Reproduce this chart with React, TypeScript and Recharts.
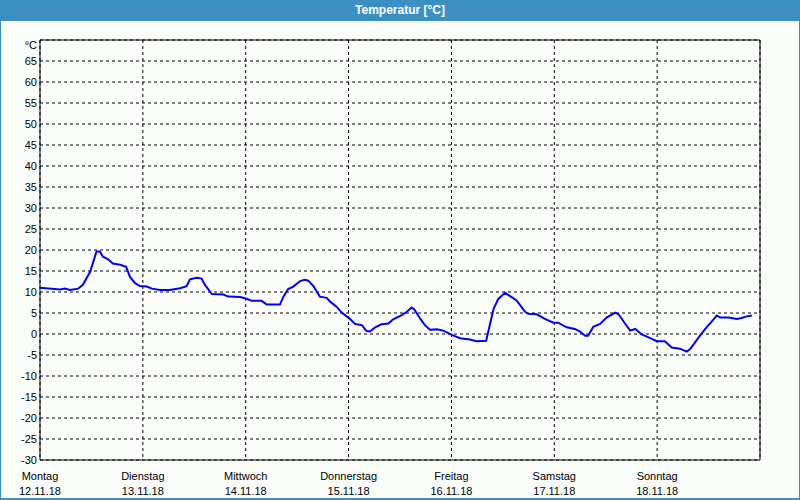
import React from "react";
import {
  CartesianGrid,
  Line,
  LineChart,
  ReferenceArea,
  XAxis,
  YAxis,
} from "recharts";

// hours since Monday 12.11.18 00:00
const HOURS = [
  0, 4.7, 5.8, 7.0, 8.9, 10.0, 11.7, 13.2, 14.0, 14.7,
  15.9, 17.0, 18.7, 20.1, 21.0, 22.2, 23.3, 24.9, 26.1, 28.0,
  30.3, 32.7, 34.2, 35.0, 36.6, 37.7, 38.5, 40.1, 42.8, 43.9,
  46.7, 48.2, 49.4, 51.7, 52.9, 56.0, 56.8, 57.9, 59.1, 60.7,
  61.8, 62.6, 63.8, 65.3, 66.9, 67.7, 69.2, 70.4, 72.3, 73.5,
  75.1, 76.2, 77.0, 78.2, 79.7, 81.3, 82.4, 84.4, 85.6, 86.7,
  87.3, 88.7, 89.8, 91.0, 92.6, 94.1, 96.1, 98.0, 100.3, 101.9,
  104.1, 105.0, 105.8, 106.9, 108.5, 109.7, 111.2, 113.2, 113.9, 115.9,
  117.8, 119.8, 120.9, 122.9, 124.8, 126.0, 127.2, 127.9, 129.1, 130.7,
  132.2, 134.2, 135.0, 136.5, 137.7, 138.9, 140.4, 142.4, 143.9, 145.8,
  147.4, 149.3, 150.9, 151.7, 154.0, 155.6, 156.7, 157.9, 158.7, 160.6,
  162.6, 163.7, 164.9, 166.1,
];

const TEMPS = [
  11.0, 10.6, 10.8, 10.5, 10.8, 11.7, 14.8, 19.7, 19.6, 18.4,
  17.8, 16.8, 16.5, 16.0, 13.6, 12.1, 11.4, 11.3, 10.8, 10.5,
  10.5, 10.9, 11.4, 13.0, 13.4, 13.2, 11.7, 9.5, 9.4, 8.9,
  8.8, 8.4, 7.9, 7.9, 7.0, 7.0, 8.9, 10.7, 11.3, 12.6,
  12.9, 12.7, 11.4, 8.9, 8.6, 7.7, 6.5, 5.1, 3.6, 2.4,
  2.1, 0.7, 0.6, 1.6, 2.3, 2.5, 3.5, 4.5, 5.3, 6.3,
  5.9, 3.7, 2.1, 1.0, 1.1, 0.8, -0.2, -1.0, -1.3, -1.7,
  -1.6, 2.3, 5.9, 8.3, 9.8, 9.0, 8.0, 5.3, 4.8, 4.7,
  3.6, 2.7, 2.7, 1.6, 1.2, 0.6, -0.4, -0.4, 1.7, 2.4,
  3.9, 5.1, 4.7, 2.5, 0.8, 1.2, -0.1, -1.0, -1.7, -1.7,
  -3.2, -3.5, -4.2, -3.6, -0.4, 1.7, 2.9, 4.4, 3.9, 3.9,
  3.6, 3.8, 4.2, 4.4,
];

const DAYS = ["Montag", "Dienstag", "Mittwoch", "Donnerstag", "Freitag", "Samstag", "Sonntag"];
const DATES = ["12.11.18", "13.11.18", "14.11.18", "15.11.18", "16.11.18", "17.11.18", "18.11.18"];
const X_TICKS = [0, 24, 48, 72, 96, 120, 144];
const Y_TICKS = [-30, -25, -20, -15, -10, -5, 0, 5, 10, 15, 20, 25, 30, 35, 40, 45, 50, 55, 60, 65, 70];

const data = HOURS.map((h, i) => ({ h, t: TEMPS[i] }));

const FONT = "'Liberation Sans', Arial, sans-serif";
const BLUE = "#3b8fc3";

const DayTick = (props: any) => {
  const { x, y, payload } = props;
  const i = X_TICKS.indexOf(payload.value);
  return (
    <g>
      <text x={x} y={y + 18} textAnchor="middle" fontSize={11} fontFamily={FONT} fill="#000">
        {DAYS[i]}
      </text>
      <text x={x} y={y + 33} textAnchor="middle" fontSize={11} fontFamily={FONT} fill="#000">
        {DATES[i]}
      </text>
    </g>
  );
};

const TempTick = (props: any) => {
  const { x, y, payload } = props;
  const top = payload.value === 70;
  return (
    <text
      x={x}
      y={top ? y + 5 : y}
      dy="0.355em"
      textAnchor="end"
      fontSize={11}
      fontFamily={FONT}
      fill="#000"
    >
      {top ? "°C" : payload.value}
    </text>
  );
};

export default function App() {
  return (
    <div
      style={{
        position: "absolute",
        left: 0,
        top: 0,
        width: 800,
        height: 500,
        boxSizing: "border-box",
        background: "#fbfdfb",
        borderLeft: `1px solid ${BLUE}`,
        borderRight: `1px solid ${BLUE}`,
        borderBottom: `2px solid ${BLUE}`,
        overflow: "hidden",
      }}
    >
      <div style={{ position: "absolute", left: -1, top: 0 }}>
        <LineChart
          width={800}
          height={500}
          data={data}
          margin={{ top: 40, right: 40, bottom: 0, left: 0 }}
        >
          <CartesianGrid stroke="#000" strokeDasharray="3 3" />
          <XAxis
            type="number"
            dataKey="h"
            domain={[0, 168]}
            ticks={X_TICKS}
            height={40}
            tickLine={false}
            axisLine={false}
            tickSize={0}
            tick={<DayTick />}
            interval={0}
          />
          <YAxis
            type="number"
            domain={[-30, 70]}
            ticks={Y_TICKS}
            width={40}
            tickLine={false}
            axisLine={false}
            tickSize={0}
            tickMargin={3}
            tick={<TempTick />}
            interval={0}
          />
          <ReferenceArea
            x1={0}
            x2={168}
            y1={-30}
            y2={70}
            fill="none"
            stroke="#000"
            strokeWidth={1}
          />
          <Line
            type="linear"
            dataKey="t"
            stroke="#0000ee"
            strokeWidth={2}
            dot={false}
            isAnimationActive={false}
          />
        </LineChart>
      </div>
      <div
        style={{
          position: "absolute",
          left: -1,
          top: 0,
          width: 800,
          height: 21,
          background: BLUE,
          color: "#fff",
          fontFamily: FONT,
          fontWeight: "bold",
          fontSize: 12,
          lineHeight: "21px",
          textAlign: "center",
        }}
      >
        Temperatur [°C]
      </div>
    </div>
  );
}
